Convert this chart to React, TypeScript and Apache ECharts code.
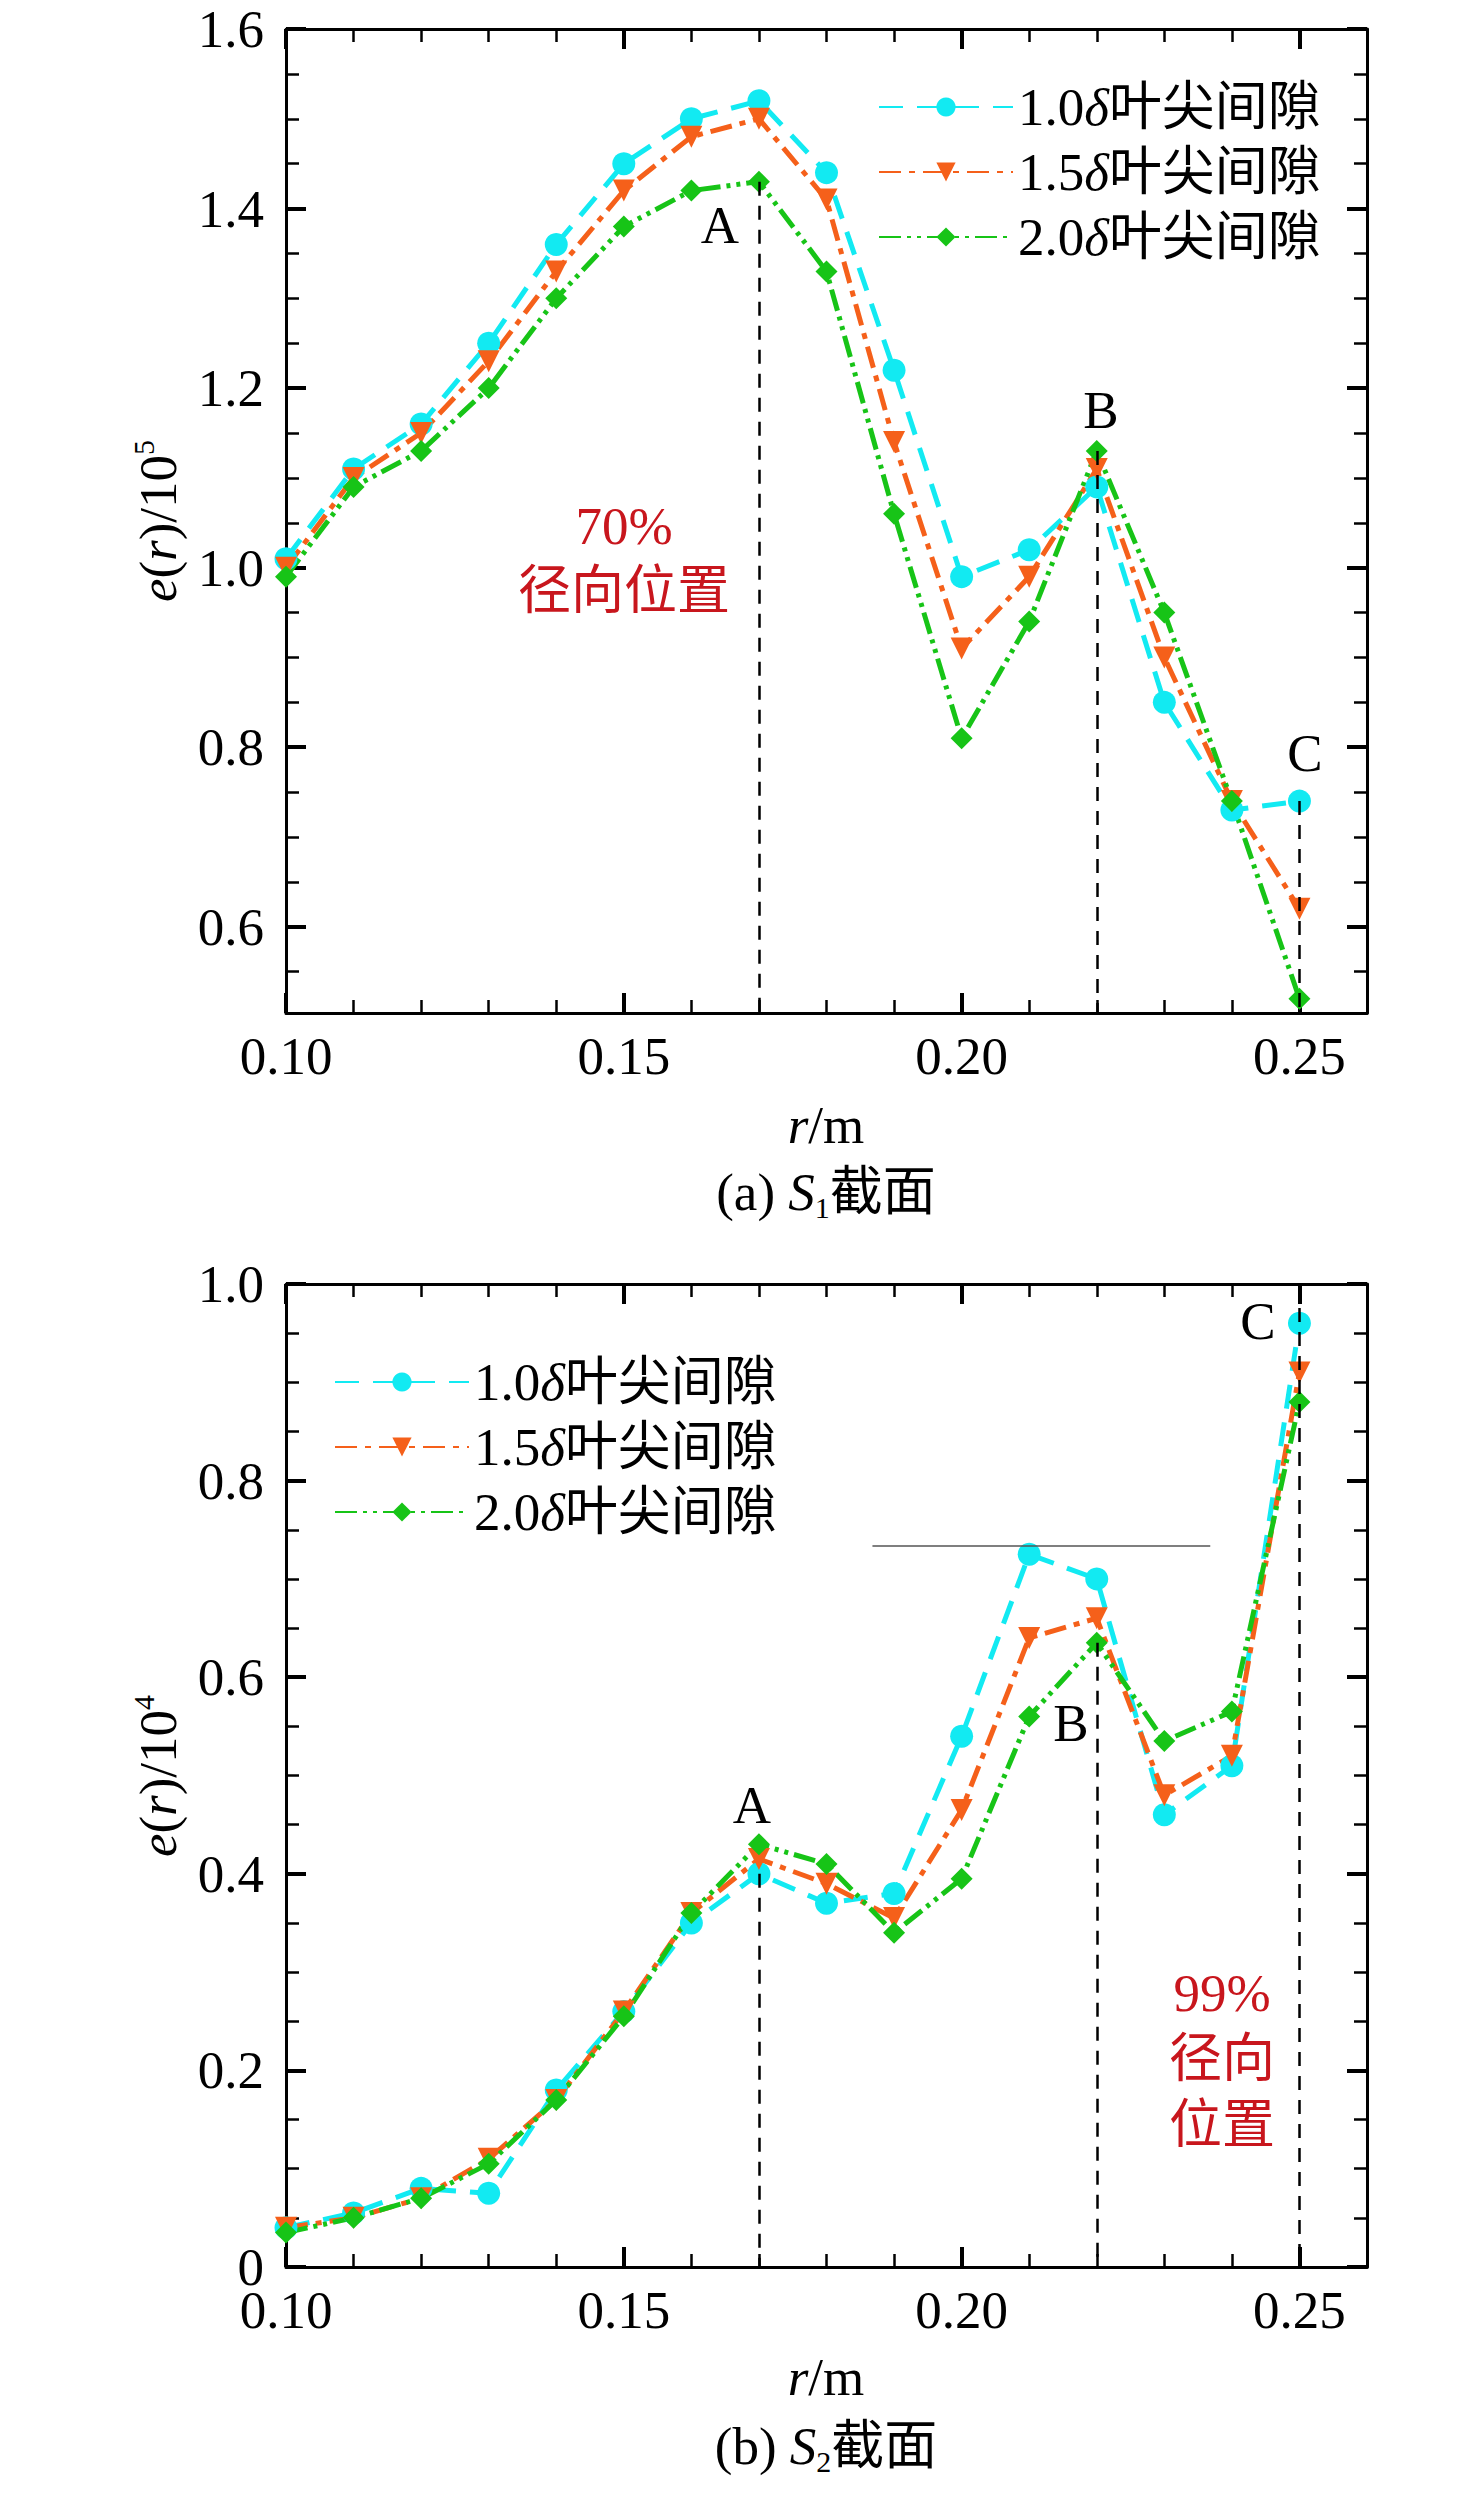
import { useEffect, useRef } from "react";
import * as echarts from "echarts";

const radius = [0.1, 0.11, 0.12, 0.13, 0.14, 0.15, 0.16, 0.17, 0.18, 0.19, 0.2, 0.21, 0.22, 0.23, 0.24, 0.25];
const seriesNames = ["1.0δ叶尖间隙", "1.5δ叶尖间隙", "2.0δ叶尖间隙"];

// (a) S1 section, e(r)/10^5
const s1Gap10 = [1.01, 1.11, 1.16, 1.25, 1.36, 1.45, 1.5, 1.52, 1.44, 1.22, 0.99, 1.02, 1.09, 0.85, 0.73, 0.74];
const s1Gap15 = [1.0, 1.1, 1.15, 1.23, 1.33, 1.42, 1.48, 1.5, 1.41, 1.14, 0.91, 0.99, 1.11, 0.9, 0.74, 0.62];
const s1Gap20 = [0.99, 1.09, 1.13, 1.2, 1.3, 1.38, 1.42, 1.43, 1.33, 1.06, 0.81, 0.94, 1.13, 0.95, 0.74, 0.52];

// (b) S2 section, e(r)/10^4
const s2Gap10 = [0.04, 0.055, 0.08, 0.075, 0.18, 0.26, 0.35, 0.4, 0.37, 0.38, 0.54, 0.725, 0.7, 0.46, 0.51, 0.96];
const s2Gap15 = [0.04, 0.05, 0.07, 0.11, 0.17, 0.26, 0.36, 0.415, 0.39, 0.355, 0.465, 0.64, 0.66, 0.48, 0.52, 0.91];
const s2Gap20 = [0.035, 0.05, 0.07, 0.105, 0.17, 0.255, 0.36, 0.43, 0.41, 0.34, 0.395, 0.56, 0.635, 0.535, 0.565, 0.88];

const xTicks = [0.1, 0.15, 0.2, 0.25];
const xMinorTicks = [0.11, 0.12, 0.13, 0.14, 0.16, 0.17, 0.18, 0.19, 0.21, 0.22, 0.23, 0.24];
const s1YTicks = [0.6, 0.8, 1.0, 1.2, 1.4, 1.6];
const s1YMinorTicks = [0.55, 0.65, 0.7, 0.75, 0.85, 0.9, 0.95, 1.05, 1.1, 1.15, 1.25, 1.3, 1.35, 1.45, 1.5, 1.55];
const s2YTicks = [0, 0.2, 0.4, 0.6, 0.8, 1.0];
const s2YMinorTicks = [0.05, 0.1, 0.15, 0.25, 0.3, 0.35, 0.45, 0.5, 0.55, 0.65, 0.7, 0.75, 0.85, 0.9, 0.95];

const FONT = "'Liberation Serif', 'Times New Roman', 'Noto Sans CJK SC', serif";
const FS = 53;
const COLORS = ["#12EAF2", "#F5601A", "#17C417"];
const SYMBOLS = ["circle", "triangle", "diamond"];
const SYMBOL_ROTATE = [0, 180, 0];
const DASHES = [
  [24, 14],
  [22, 8, 6, 8],
  [22, 6, 4, 6, 4, 6],
];

const makeAxes = (dim: "x" | "y", grid: number, min: number, max: number, major: number[], minor: number[], fmt: (v: number) => string) => {
  const positions = dim === "x" ? ["bottom", "top"] : ["left", "right"];
  const axes: any[] = [];
  positions.forEach((position, k) => {
    axes.push({
      type: "value",
      gridIndex: grid,
      position,
      min,
      max,
      axisLine: { show: true, onZero: false, lineStyle: { color: "#000", width: 3 } },
      axisTick: { show: true, inside: true, length: 20, customValues: major, lineStyle: { color: "#000", width: 4 } },
      axisLabel: {
        show: k === 0,
        customValues: major,
        formatter: fmt,
        margin: dim === "x" ? 16 : 22,
        fontSize: FS,
        fontFamily: FONT,
        color: "#000",
      },
      splitLine: { show: false },
    });
    axes.push({
      type: "value",
      gridIndex: grid,
      position,
      min,
      max,
      axisLine: { show: false, onZero: false },
      axisTick: { show: true, inside: true, length: 13, customValues: minor, lineStyle: { color: "#000", width: 2.5 } },
      axisLabel: { show: false },
      splitLine: { show: false },
    });
  });
  return axes;
};

const lineSeries = (idx: number, values: number[], axisIndex: number, markLine?: any) => ({
  type: "line",
  name: seriesNames[idx],
  xAxisIndex: axisIndex,
  yAxisIndex: axisIndex,
  data: radius.map((r, i) => [r, values[i]]),
  symbol: SYMBOLS[idx],
  symbolSize: idx === 0 ? 23 : 22,
  symbolRotate: SYMBOL_ROTATE[idx],
  lineStyle: { color: COLORS[idx], width: 5, type: DASHES[idx] },
  itemStyle: { color: COLORS[idx] },
  emphasis: { disabled: true },
  markLine,
});

const dashedGuide = (pairs: [number, number, number][]) => ({
  silent: true,
  symbol: ["none", "none"],
  label: { show: false },
  lineStyle: { color: "#000", width: 2.5, type: [14, 10] },
  data: pairs.map(([x, y0, y1]) => [{ coord: [x, y0] }, { coord: [x, y1] }]),
});

const S1_MIN = 0.504;

const text = (x: number, y: number, t: string, opts: any = {}) => ({
  type: "text",
  x,
  y,
  rotation: opts.rotation || 0,
  silent: true,
  style: {
    text: t,
    x: 0,
    y: 0,
    fontSize: opts.fontSize || FS,
    fontFamily: FONT,
    fill: opts.color || "#000",
    lineHeight: opts.lineHeight || 60,
    align: "center",
    verticalAlign: "middle",
    textAlign: "center",
    textVerticalAlign: "middle",
    rich: {
      i: { fontStyle: "italic", fontSize: FS, fontFamily: FONT, lineHeight: 60 },
      sup: { fontSize: 30, fontFamily: FONT, lineHeight: 24, verticalAlign: "top" },
      sub: { fontSize: 30, fontFamily: FONT, lineHeight: 22, verticalAlign: "bottom" },
    },
  },
});

const legendFor = (left: number, top: number) => ({
  orient: "vertical",
  left,
  top,
  itemWidth: 134,
  itemHeight: 24,
  itemGap: 11,
  selectedMode: false,
  data: seriesNames,
  formatter: (name: string) => name.replace("δ", "{i|δ}"),
  textStyle: {
    fontSize: FS,
    fontFamily: FONT,
    color: "#000",
    lineHeight: 54,
    rich: { i: { fontStyle: "italic", fontSize: FS, fontFamily: FONT, lineHeight: 54 } },
  },
});

const App = () => {
  const ref = useRef<HTMLDivElement>(null);

  useEffect(() => {
    document.body.style.margin = "0";
    if (!ref.current) return;
    const chart = echarts.init(ref.current, undefined, { renderer: "svg" });

    const fmt1 = (v: number) => v.toFixed(1);
    const fmt2 = (v: number) => (v === 0 ? "0" : v.toFixed(1));
    const fmtX = (v: number) => v.toFixed(2);

    const option: any = {
      animation: false,
      backgroundColor: "#fff",
      grid: [
        { left: 286, top: 29, width: 1081, height: 984 },
        { left: 286, top: 1284, width: 1081, height: 983 },
      ],
      xAxis: [
        ...makeAxes("x", 0, 0.1, 0.26, xTicks, xMinorTicks, fmtX),
        ...makeAxes("x", 1, 0.1, 0.26, xTicks, xMinorTicks, fmtX),
      ],
      yAxis: [
        ...makeAxes("y", 0, S1_MIN, 1.6, s1YTicks, s1YMinorTicks, fmt1),
        ...makeAxes("y", 1, 0, 1.0, s2YTicks, s2YMinorTicks, fmt2),
      ],
      legend: [legendFor(873, 75), legendFor(329, 1350)],
      series: [
        lineSeries(0, s1Gap10, 0),
        lineSeries(1, s1Gap15, 0),
        lineSeries(
          2,
          s1Gap20,
          0,
          dashedGuide([
            [radius[7], s1Gap20[7], S1_MIN],
            [radius[12], s1Gap20[12], S1_MIN],
            [radius[15], s1Gap10[15], S1_MIN],
          ])
        ),
        lineSeries(0, s2Gap10, 4, {
          silent: true,
          symbol: ["none", "none"],
          label: { show: false },
          lineStyle: { color: "#555", width: 1.5, type: "solid" },
          data: [[{ coord: [0.1868, 0.734] }, { coord: [0.2368, 0.734] }]],
        }),
        lineSeries(1, s2Gap15, 4),
        lineSeries(
          2,
          s2Gap20,
          4,
          dashedGuide([
            [radius[7], s2Gap10[7], 0],
            [radius[12], s2Gap20[12], 0],
            [radius[15], 1.0, 0],
          ])
        ),
      ],
      graphic: [
        // (a)
        text(158, 521, "{i|e}({i|r})/10{sup|5}", { rotation: Math.PI / 2 }),
        text(826, 1125, "{i|r}/m"),
        text(826, 1192, "(a) {i|S}{sub|1}截面"),
        text(720, 225, "A"),
        text(1101, 410, "B"),
        text(1305, 753, "C"),
        text(624, 526, "70%", { color: "#C8161D" }),
        text(624, 591, "径向位置", { color: "#C8161D" }),
        // (b)
        text(158, 1776, "{i|e}({i|r})/10{sup|4}", { rotation: Math.PI / 2 }),
        text(826, 2377, "{i|r}/m"),
        text(826, 2446, "(b) {i|S}{sub|2}截面"),
        text(752, 1805, "A"),
        text(1071, 1723, "B"),
        text(1258, 1321, "C"),
        text(1222, 1993, "99%", { color: "#C8161D" }),
        text(1222, 2059, "径向", { color: "#C8161D" }),
        text(1222, 2125, "位置", { color: "#C8161D" }),
      ],
    };

    chart.setOption(option);
    return () => chart.dispose();
  }, []);

  return <div ref={ref} style={{ width: 1476, height: 2496 }} />;
};

export default App;
